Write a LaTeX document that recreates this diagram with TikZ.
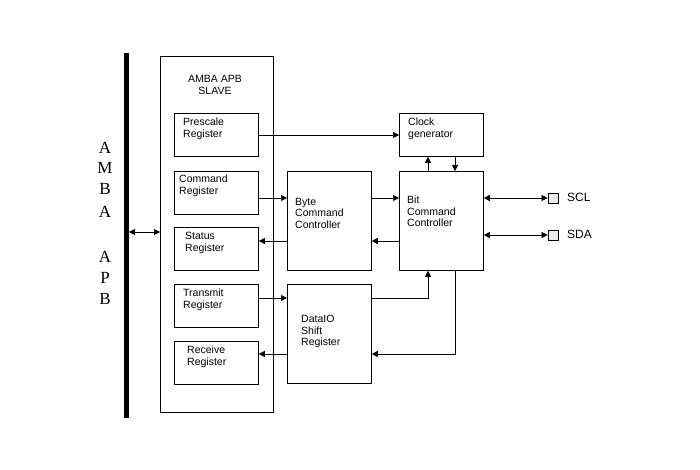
\documentclass[tikz,border=0pt]{standalone}
\usepackage{fontspec}
\setmainfont{Liberation Sans}
\newfontfamily\serifx{Liberation Serif}
\usetikzlibrary{arrows.meta}
\begin{document}
\begin{tikzpicture}[x=1pt,y=-1pt,
  box/.style={draw,line width=0.8pt,inner sep=0pt},
  lbl/.style={font=\fontsize{10.5}{11.5}\selectfont,align=left,anchor=north west,inner sep=0pt},
  con/.style={line width=0.6pt,-{Triangle[length=6pt,width=6pt]}},
  dcon/.style={line width=0.6pt,{Triangle[length=6pt,width=6pt]}-{Triangle[length=6pt,width=6pt]}},
  pad/.style={draw,line width=0.8pt,fill=black!8,minimum size=10pt,inner sep=0pt},
  let/.style={font=\serifx\fontsize{17}{17}\selectfont,inner sep=0pt}]
\useasboundingbox (0,0) rectangle (700,470);
\fill (124,53) rectangle (129,418);
\node[box,minimum width=113pt,minimum height=356pt,anchor=north west] (slave) at (160,56) {};
\node[font=\fontsize{10.5}{12}\selectfont,align=center] (t) at (215,85) {AMBA APB\\SLAVE};
\foreach \n/\y in {pre/113,cmd/171,sta/227,tra/284,rec/341}
  \node[box,minimum width=84pt,minimum height=43pt,anchor=north west] (\n) at (174,\y) {};
\node[lbl] (tp) at (183,118) {Prescale\\Register};
\node[lbl] (tc) at (179,175) {Command\\Register};
\node[lbl] (ts) at (185,232) {Status\\Register};
\node[lbl] (tt) at (183,289) {Transmit\\Register};
\node[lbl] (tr) at (187,346) {Receive\\Register};
\node[box,minimum width=84pt,minimum height=99pt,anchor=north west] (byte) at (287,171) {};
\node[lbl] (tb) at (295,198) {Byte\\Command\\Controller};
\node[box,minimum width=84pt,minimum height=99pt,anchor=north west] (dio) at (287,284) {};
\node[lbl] (td) at (301,315) {DataIO\\Shift\\Register};
\node[box,minimum width=84pt,minimum height=43pt,anchor=north west] (clk) at (399,113) {};
\node[lbl] (tk) at (408,118) {Clock\\generator};
\node[box,minimum width=84pt,minimum height=99pt,anchor=north west] (bit) at (399,171) {};
\node[lbl] (tbt) at (407,196) {Bit\\Command\\Controller};
\node[pad] (scl) at (553,198) {};
\node[pad] (sda) at (553,235) {};
\node[anchor=west,font=\fontsize{12}{12}\selectfont,inner sep=0pt] (lscl) at (567,197) {SCL};
\node[anchor=west,font=\fontsize{12}{12}\selectfont,inner sep=0pt] (lsda) at (567,234) {SDA};
\foreach \c/\y [count=\i] in {A/148,M/168,B/189,A/212,A/257,P/278,B/299}
  \node[let] (L\i) at (105,\y) {\c};
\coordinate (bus) at (129,232);
\draw[dcon] (bus) -- (slave.west |- bus);
\draw[con] (pre.east |- 0,135) -- (clk.west |- 0,135);
\draw[con] (cmd.east |- 0,198) -- (byte.west |- 0,198);
\draw[con] (byte.east |- 0,198) -- (bit.west |- 0,198);
\draw[con] (bit.west |- 0,241) -- (byte.east |- 0,241);
\draw[con] (byte.west |- 0,241) -- (sta.east |- 0,241);
\draw[con] (tra.east |- 0,298) -- (dio.west |- 0,298);
\draw[con] (dio.east |- 0,298) -| (bit.south -| 428,0);
\draw[con] (bit.south -| 455,0) |- (dio.east |- 0,354);
\draw[con] (dio.west |- 0,354) -- (rec.east |- 0,354);
\draw[con] (bit.north -| 428,0) -- (clk.south -| 428,0);
\draw[con] (clk.south -| 455,0) -- (bit.north -| 455,0);
\draw[dcon] (bit.east |- scl) -- (scl.west);
\draw[dcon] (bit.east |- sda) -- (sda.west);
\end{tikzpicture}
\end{document}
